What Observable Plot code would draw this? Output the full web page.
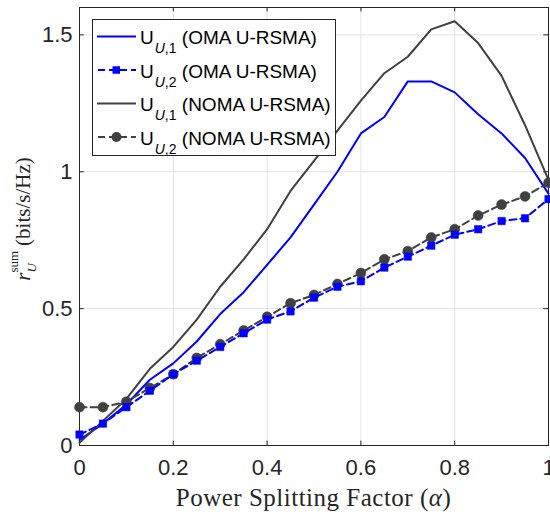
<!DOCTYPE html>
<html><head><meta charset="utf-8">
<script src="https://cdn.jsdelivr.net/npm/d3@7"></script>
<script src="https://cdn.jsdelivr.net/npm/@observablehq/plot@0.6"></script>
<style>body{margin:0;background:#fff}</style>
</head><body><div id="chart"></div>
<script>
// ---- data ----
const alpha  = [0, 0.05, 0.1, 0.15, 0.2, 0.25, 0.3, 0.35, 0.4, 0.45, 0.5, 0.55, 0.6, 0.65, 0.7, 0.75, 0.8, 0.85, 0.9, 0.95, 1];
const omaU1  = [0.02, 0.08, 0.15, 0.24, 0.30, 0.38, 0.48, 0.56, 0.66, 0.76, 0.88, 1.00, 1.14, 1.20, 1.33, 1.33, 1.29, 1.21, 1.14, 1.05, 0.92];
const omaU2  = [0.04, 0.08, 0.14, 0.20, 0.26, 0.31, 0.36, 0.41, 0.46, 0.49, 0.54, 0.58, 0.60, 0.65, 0.69, 0.73, 0.77, 0.79, 0.82, 0.83, 0.90];
const nomaU1 = [0.01, 0.09, 0.17, 0.28, 0.36, 0.46, 0.58, 0.68, 0.79, 0.93, 1.04, 1.15, 1.26, 1.36, 1.42, 1.52, 1.55, 1.47, 1.35, 1.17, 0.97];
const nomaU2 = [0.14, 0.14, 0.16, 0.21, 0.26, 0.32, 0.37, 0.42, 0.47, 0.52, 0.55, 0.59, 0.63, 0.68, 0.71, 0.76, 0.79, 0.84, 0.88, 0.91, 0.96];
const xTicks = [0, 0.2, 0.4, 0.6, 0.8, 1];
const yTicks = [0, 0.5, 1, 1.5];
const legendSub  = ["U,1", "U,2", "U,1", "U,2"];
const legendName = ["(OMA U-RSMA)", "(OMA U-RSMA)", "(NOMA U-RSMA)", "(NOMA U-RSMA)"];

// ---- styles ----
const BLUE = "#0000ff", GRAY = "#404040", AX = "#262626", GRID = "#e3e3e3";
const SANS = "'Liberation Sans', Arial, Helvetica, sans-serif";
const SERIF = "'Liberation Serif', 'Times New Roman', serif";
const rows = ys => alpha.map((a, i) => ({a, v: ys[i]}));
const xDom = [0, 1], yDom = [0, 1.6];

const chart = Plot.plot({
  width: 550, height: 514,
  marginLeft: 79, marginRight: 2, marginTop: 7, marginBottom: 69,
  style: {fontFamily: SANS, fontSize: "22px", background: "#fff", color: AX},
  x: {domain: xDom, label: null},
  y: {domain: yDom, label: null},
  marks: [
    Plot.gridX(xTicks, {stroke: GRID, strokeOpacity: 1}),
    Plot.gridY(yTicks, {stroke: GRID, strokeOpacity: 1}),
    Plot.axisX(xTicks, {tickSize: 0, tickPadding: 14, fontSize: 22, fill: AX, tickFormat: d => String(d), label: null}),
    Plot.axisY(yTicks, {tickSize: 0, tickPadding: 7, fontSize: 22, fill: AX, tickFormat: d => String(d), label: null}),
    // inward ticks on all four sides
    Plot.ruleX(xTicks, {x: d => d, y1: yDom[0], y2: yDom[0] + 0.016, stroke: AX}),
    Plot.ruleX(xTicks, {x: d => d, y1: yDom[1] - 0.016, y2: yDom[1], stroke: AX}),
    Plot.ruleY(yTicks, {y: d => d, x1: xDom[0], x2: xDom[0] + 0.01, stroke: AX}),
    Plot.ruleY(yTicks, {y: d => d, x1: xDom[1] - 0.01, x2: xDom[1], stroke: AX}),
    Plot.frame({stroke: AX, strokeWidth: 1}),
    // series
    Plot.line(rows(omaU1), {x: "a", y: "v", stroke: BLUE, strokeWidth: 2}),
    Plot.line(rows(nomaU1), {x: "a", y: "v", stroke: GRAY, strokeWidth: 2}),
    Plot.line(rows(nomaU2), {x: "a", y: "v", stroke: GRAY, strokeWidth: 2, strokeDasharray: "7,4"}),
    Plot.dot(rows(nomaU2), {x: "a", y: "v", r: 5, fill: GRAY, stroke: GRAY, strokeWidth: 0.5}),
    Plot.line(rows(omaU2), {x: "a", y: "v", stroke: BLUE, strokeWidth: 2, strokeDasharray: "7,4"}),
    Plot.dot(rows(omaU2), {x: "a", y: "v", r: 4.2, symbol: "square", fill: BLUE, stroke: BLUE, strokeWidth: 0.5})
  ]
});
document.getElementById("chart").appendChild(chart);

const svg = d3.select(chart);

// x label
const xl = svg.append("text")
  .attr("x", 313.5).attr("y", 506).attr("text-anchor", "middle")
  .attr("font-family", SERIF).attr("font-size", 25).attr("letter-spacing", 0.5).attr("fill", AX);
xl.append("tspan").text("Power Splitting Factor (");
xl.append("tspan").attr("font-style", "italic").text("α");
xl.append("tspan").text(")");

// y label
const yl = svg.append("text")
  .attr("transform", "translate(30,219) rotate(-90)").attr("text-anchor", "middle")
  .attr("font-family", SERIF).attr("font-size", 21).attr("fill", AX);
yl.append("tspan").attr("font-style", "italic").text("r");
yl.append("tspan").attr("font-size", 13).attr("dy", -12).text("sum");
yl.append("tspan").attr("font-size", 13).attr("font-style", "italic").attr("dx", -21.7).attr("dy", 18).text("U");
yl.append("tspan").attr("dx", 12).attr("dy", -6).text(" (bits/s/Hz)");

// legend
const lg = svg.append("g").attr("text-anchor", "start");
lg.append("rect").attr("x", 92.5).attr("y", 19.5).attr("width", 243).attr("height", 136)
  .attr("fill", "#fff").attr("stroke", AX).attr("stroke-width", 1);
const styles = [
  {stroke: BLUE, dash: null, marker: null},
  {stroke: BLUE, dash: "7,4", marker: "square"},
  {stroke: GRAY, dash: null, marker: null},
  {stroke: GRAY, dash: "7,4", marker: "circle"}
];
styles.forEach((s, i) => {
  const base = 44 + i * 33.5;
  const ly = base - 7.5;
  const ln = lg.append("line").attr("x1", 97).attr("x2", 136).attr("y1", ly).attr("y2", ly)
    .attr("stroke", s.stroke).attr("stroke-width", 2);
  if (s.dash) ln.attr("stroke-dasharray", s.dash).attr("stroke-dashoffset", -1);
  if (s.marker === "square") lg.append("rect").attr("x", 112.5).attr("y", ly - 3.75).attr("width", 7.5).attr("height", 7.5).attr("fill", s.stroke);
  if (s.marker === "circle") lg.append("circle").attr("cx", 116.5).attr("cy", ly).attr("r", 5).attr("fill", s.stroke);
  const t = lg.append("text").attr("x", 140).attr("y", base).attr("text-anchor", "start")
    .attr("font-family", SANS).attr("font-size", 19).attr("fill", "#000");
  t.append("tspan").text("U");
  const [u, rest] = [legendSub[i].slice(0, 1), legendSub[i].slice(1)];
  t.append("tspan").attr("font-size", 14).attr("font-style", "italic").attr("dx", 1).attr("dy", 9).text(u);
  t.append("tspan").attr("font-size", 14).text(rest);
  t.append("tspan").attr("dy", -9).text(" " + legendName[i]);
});
</script>
</body></html>
